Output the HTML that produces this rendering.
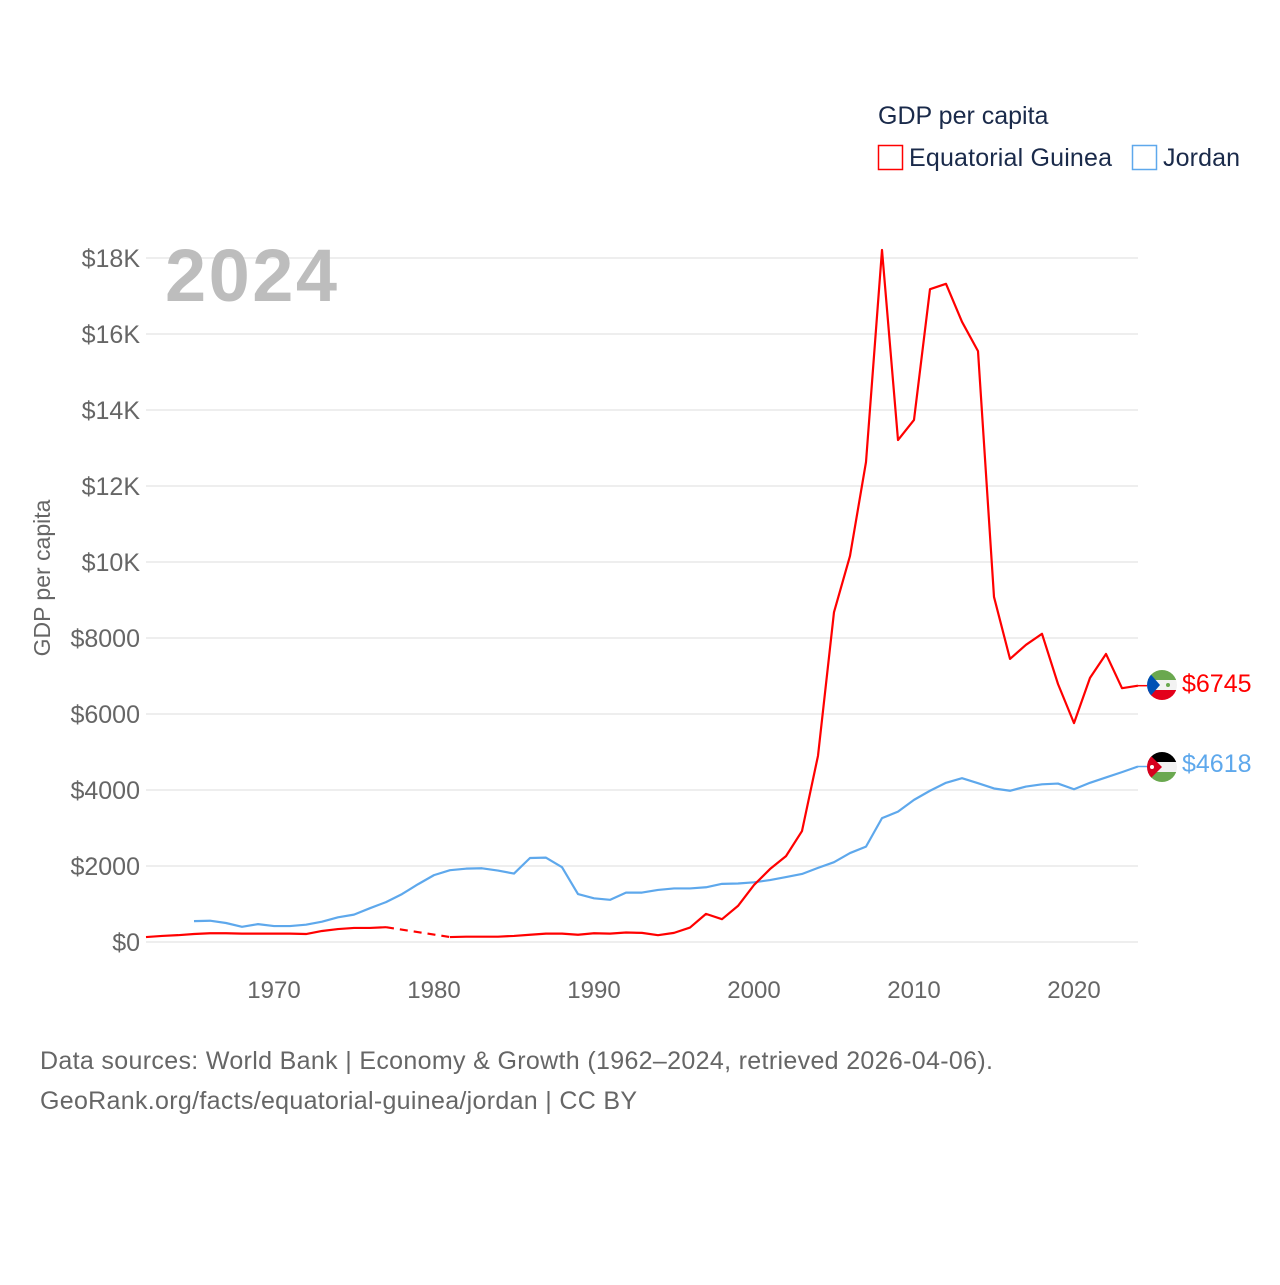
<!DOCTYPE html>
<html><head><meta charset="utf-8"><style>
body{margin:0;background:#fff;}
svg text{font-family:"Liberation Sans",sans-serif;}
</style></head><body>
<svg id="chart" width="1280" height="1280" xmlns="http://www.w3.org/2000/svg">
<text x="878" y="124" font-size="25" fill="#1a2a4a">GDP per capita</text>
<g>
<rect x="878.5" y="145.5" width="24" height="24" fill="none" stroke="#ff0000" stroke-width="1.5"/>
<text x="909" y="166" font-size="25" fill="#1a2a4a" textLength="203">Equatorial Guinea</text></g>
<g>
<rect x="1132.5" y="145.5" width="24" height="24" fill="none" stroke="#5ea8ec" stroke-width="1.5"/>
<text x="1163" y="166" font-size="25" fill="#1a2a4a" textLength="77">Jordan</text></g>
<g id="grid"></g>
<text x="165" y="301" font-size="74" font-weight="bold" fill="#bdbdbd" textLength="172">2024</text>
<text transform="translate(50,578) rotate(-90)" text-anchor="middle" font-size="23" fill="#666">GDP per capita</text>
<g id="xt"></g><g id="lines"></g>
<g>
<clipPath id="c1"><circle cx="1162" cy="685" r="15"/></clipPath>
<g clip-path="url(#c1)"><rect x="1147" y="670" width="30" height="10" fill="#6aa84f"/><rect x="1147" y="680" width="30" height="10" fill="#f2f2f2"/><rect x="1147" y="690" width="30" height="10" fill="#e3001b"/><polygon points="1147,670 1160,685 1147,700" fill="#0050b5"/><circle cx="1168" cy="685" r="2" fill="#6aa84f"/></g></g>
<g>
<clipPath id="c2"><circle cx="1162" cy="767" r="15"/></clipPath>
<g clip-path="url(#c2)"><rect x="1147" y="752" width="30" height="10" fill="#000"/><rect x="1147" y="762" width="30" height="10" fill="#f2f2f2"/><rect x="1147" y="772" width="30" height="10" fill="#6aa84f"/><polygon points="1147,752 1162,767 1147,782" fill="#d7001e"/><circle cx="1152" cy="767" r="2" fill="#fff"/></g></g>
<text x="1182" y="692" font-size="25" fill="#ff0000">$6745</text>
<text x="1182" y="772" font-size="25" fill="#5ea8ec">$4618</text>
<text x="40" y="1069" font-size="25" fill="#666" textLength="953">Data sources: World Bank | Economy &amp; Growth (1962–2024, retrieved 2026-04-06).</text>
<text x="40" y="1109" font-size="25" fill="#666" textLength="597">GeoRank.org/facts/equatorial-guinea/jordan | CC BY</text>
</svg>
<script>
const years=[];for(let y=1962;y<=2024;y++)years.push(y);
const eqGuinea=[130,160,180,210,230,230,220,220,220,220,210,290,340,370,370,390,null,null,null,130,140,140,140,160,190,220,220,190,230,220,250,240,180,240,380,740,600,950,1500,1920,2260,2920,4900,8680,10160,12630,18210,13210,13740,17180,17320,16320,15550,9080,7450,7820,8110,6790,5760,6950,7580,6680,6745];
const jordan=[null,null,null,550,560,500,400,470,420,420,455,535,650,720,890,1050,1260,1520,1760,1890,1930,1940,1880,1800,2210,2220,1970,1260,1150,1110,1300,1300,1370,1410,1410,1440,1530,1540,1570,1630,1710,1790,1950,2100,2340,2510,3260,3430,3740,3980,4190,4310,4180,4040,3980,4090,4150,4170,4020,4190,4330,4470,4618];
const yTicks=[0,2000,4000,6000,8000,10000,12000,14000,16000,18000];
const yTickLabels=["$0","$2000","$4000","$6000","$8000","$10K","$12K","$14K","$16K","$18K"];
const xTicks=[1970,1980,1990,2000,2010,2020];
const NS="http://www.w3.org/2000/svg";
const X=y=>146+(y-1962)*16, Y=v=>942-v*0.038;
function mk(t,a,p){const e=document.createElementNS(NS,t);for(const k in a)e.setAttribute(k,a[k]);p.appendChild(e);return e;}
const grid=document.getElementById('grid');
yTicks.forEach((v,i)=>{
 const l=mk('line',{x1:146,x2:1138,y1:Y(v),y2:Y(v),stroke:'#e8e8e8','stroke-width':1.5},grid);
 
 
 const t=mk('text',{x:140,y:Y(v)+9,'text-anchor':'end','font-size':25,fill:'#666'},grid);t.textContent=yTickLabels[i];
 
 
});
const xt=document.getElementById('xt');
xTicks.forEach(y=>{const t=mk('text',{x:X(y),y:998,'text-anchor':'middle','font-size':24,fill:'#666'},xt);t.textContent=y;
 
 });
const lines=document.getElementById('lines');
function draw(vals,color,name){
 let segs=[],cur=[],last=null,gaps=[];
 vals.forEach((v,i)=>{if(v==null){if(cur.length){segs.push(cur);last=cur[cur.length-1];cur=[];}}else{if(!cur.length&&last){gaps.push([last,[X(years[i]),Y(v)]]);}cur.push([X(years[i]),Y(v)]);}});
 if(cur.length)segs.push(cur);
 segs.forEach(s=>{const p=mk('polyline',{points:s.map(q=>q.join(',')).join(' '),fill:'none',stroke:color,'stroke-width':2.2,'stroke-linejoin':'round'},lines);
  
  });
 gaps.forEach(g=>{const p=mk('line',{x1:g[0][0],y1:g[0][1],x2:g[1][0],y2:g[1][1],stroke:color,'stroke-width':2.2,'stroke-dasharray':'8,6'},lines);
  
  });
 const lv=vals[vals.length-1];
 mk('line',{x1:X(2024),y1:Y(lv),x2:1147,y2:Y(lv),stroke:color,'stroke-width':1.5},lines);
}
draw(jordan,'#5ea8ec','jordan');
draw(eqGuinea,'#ff0000','equatorial-guinea');
</script>
</body></html>
